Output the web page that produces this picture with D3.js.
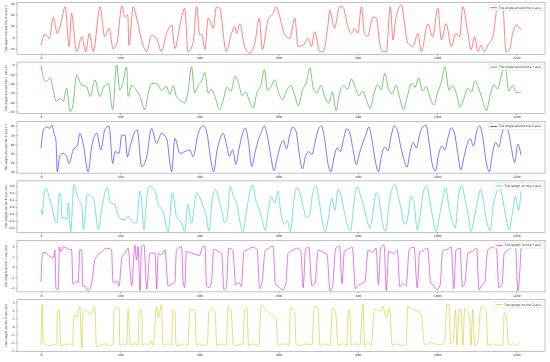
<!DOCTYPE html>
<html>
<head>
<meta charset="utf-8">
<script src="https://cdn.jsdelivr.net/npm/d3@7"></script>
<style>
  body { margin: 0; background: #fff; }
  svg { display: block; }
</style>
</head>
<body>
<div id="chart"></div>
<script>
// sample index / value pairs, one pair of arrays per sensor channel
const angleXIdx = [0,10,21,31,41,50,61,71,77,90,103,113,122,132,149,161,172,182,192,204,212,219,222,233,241,250,267,279,292,304,317,330,338,351,363,371,384,393,401,406,414,422,435,443,451,468,481,489,494,502,514,527,540,551,559,573,586,594,603,614,628,641,649,662,674,683,691,704,712,725,729,741,754,762,775,784,792,800,809,817,825,838,847,855,863,872,882,889,895,910,918,926,939,952,960,977,989,1002,1011,1023,1036,1048,1057,1065,1078,1086,1095,1103,1111,1120,1128,1141,1153,1166,1174,1183,1191,1200,1212];
const angleXVal = [-7,2.6,-1,17.7,3.5,12,27,-8,21,-12.7,0.5,-12.7,3.5,-12.7,27,0.5,8,-10,-5,27.7,18,19.7,-7,27,18,3.5,-12.7,2,-1,-12.7,3.5,11,-10,11,25.7,-12.7,-5,27,2,2.5,-11,17,8,27,25.7,-12.7,3.5,9.4,3.5,12,-8,-14,-5,17,-11,15,21,27,18,3.5,-1,17,-8,-7,-1,-8,5,-12.7,-12.7,12,24,8,27,27,9.4,3.5,8,3.5,27,3.5,1,18,17,-5,-12.7,-12.7,27,-2.4,15,28.6,12,-5,-8,3.5,-12.7,12,0.5,25.7,-2.4,12,-8,3.5,0.5,27,3.5,-11,0.5,-12.7,-7,-12.7,-7,0.5,27,27,-12.7,-11,3.5,11,6.5];

const angleYIdx = [0,6,14,23,31,38,48,56,65,73,80,90,103,115,124,136,149,157,170,181,191,199,206,216,220,229,237,250,262,271,279,292,304,317,325,334,342,355,363,371,380,388,397,405,414,422,430,440,451,460,470,480,490,499,508,517,527,536,545,555,564,572,580,590,600,610,620,631,641,650,660,670,679,688,697,707,716,726,736,745,754,764,774,784,793,803,812,822,831,840,850,859,868,877,887,896,906,915,925,935,944,954,963,973,982,992,1001,1011,1020,1030,1039,1049,1058,1068,1077,1087,1096,1106,1115,1125,1134,1144,1153,1163,1172,1181,1191,1200,1212];
const angleYVal = [0,-14,-18,-14,-27,-39,-36,-39,-25,-50,-45,-11,-22,-23,-34,-16,-34,-25,-20,-48,0,-27,-20,-2,-34,-22,-25,-34,-48,-30,-20,-20,-27,-23,-32,-22,-34,-39,-41,-29,-2,-30,-22,-18,-8,-30,-26,-35,-48,-38,-24,-28,-12,-20,-33,-29,-40,-46,-30,-22,-5,-27,-24,-16,-30,-37,-28,-22,-33,-44,-27,-19,-3,-26,-30,-22,-34,-41,-29,-49,-30,-22,-26,-15,-24,-33,-28,-38,-47,-32,-21,-27,-9,-25,-31,-22,-36,-48,-34,-20,-24,-14,-28,-23,-35,-43,-30,-18,-2,-27,-22,-31,-45,-36,-25,-29,-17,-26,-38,-49,-33,-21,-26,-10,-1,-28,-22,-30,-29];

const angleZIdx = [0,6,14,21,27,33,38,41,48,56,65,71,81,92,98,107,119,128,141,151,161,172,181,187,197,204,212,218,226,235,243,254,267,279,292,304,317,330,338,351,363,376,384,397,405,412,420,428,436,444,452,460,468,476,484,492,500,508,516,524,532,540,548,556,564,572,580,588,596,604,612,620,628,636,644,652,660,668,676,684,692,700,708,716,724,732,740,748,756,764,772,780,788,796,804,812,820,828,836,844,852,860,868,876,884,892,900,908,916,924,932,940,948,956,964,972,980,988,996,1004,1012,1020,1028,1036,1044,1052,1060,1068,1076,1084,1092,1100,1108,1116,1124,1132,1140,1148,1156,1164,1172,1180,1188,1196,1204,1212];
const angleZVal = [55.6,75.6,79,77.5,81,72,62.8,30,48,50,46.4,39,53.7,59,72,59,30,57.4,72,53.7,75.6,80,39,52,50,70,70,46.4,59,72,75.6,35.5,46.4,77.5,61,72,66.5,30,66.5,50,52,53.7,46.4,72,79,80,70,45,30,52,66,72,60,47,54,38,55,70,78,62,36,50,64,73,80,68,48,31,44,58,64,55,70,79,74,50,33,47,52,49,62,76,80,66,40,30,46,56,52,66,77,72,54,38,50,61,70,79,64,42,30,48,57,53,69,80,75,58,44,35,52,62,56,71,79,81,62,38,31,49,58,54,68,78,72,51,32,46,60,66,58,74,80,66,41,30,50,62,57,72,79,74,55,40,60,48];

const lengthXIdx = [0,3,8,12,23,31,38,41,46,50,53,61,65,69,75,83,94,103,107,117,132,145,153,167,176,187,191,204,212,220,229,241,250,254,260,267,275,288,296,308,321,332,342,355,363,371,380,393,400,408,416,424,432,440,448,456,464,470,478,486,494,502,510,518,526,534,542,550,558,566,574,582,590,598,606,614,622,630,638,646,654,662,670,678,686,694,702,710,718,726,734,742,750,758,766,774,782,790,798,806,814,822,830,838,846,854,862,870,878,886,894,902,910,918,926,934,942,950,958,966,974,982,990,998,1006,1014,1022,1030,1038,1046,1054,1062,1070,1078,1086,1094,1102,1110,1118,1126,1134,1142,1150,1158,1166,1174,1182,1190,1198,1206,1212];
const lengthXVal = [-0.08,-0.22,0.4,0.54,0.16,-0.17,-0.46,-0.41,0.4,0.3,-0.31,-0.31,-0.36,0.11,-0.7,0.64,0.21,0.02,-0.65,0.35,0.26,-0.65,-0.08,0.54,0.11,0.07,-0.12,-0.36,-0.36,-0.27,-0.41,-0.46,0.45,0.21,-0.65,0.26,0.59,0.45,0.07,-0.12,-0.7,0.4,-0.27,-0.46,-0.7,0.07,-0.46,0.4,0.3,0.05,-0.2,-0.68,0.2,0.5,0.25,-0.1,-0.45,-0.3,0.58,0.3,0.1,-0.4,-0.7,-0.2,0.35,0.62,0.2,-0.05,-0.35,-0.66,-0.1,0.3,0.1,0.45,-0.2,-0.5,-0.4,-0.7,0.15,0.55,0.38,0,-0.3,-0.25,0.4,0.6,0.2,-0.4,-0.7,-0.3,0.25,-0.1,0.5,0.3,-0.15,-0.55,-0.68,0.1,0.58,0.35,0.05,-0.3,-0.6,-0.2,0.4,0.2,-0.45,-0.7,0,0.5,0.64,0.3,-0.1,-0.5,-0.3,0.3,0.1,-0.65,-0.2,0.45,0.6,0.15,-0.35,-0.7,-0.25,0.2,0.55,0,-0.4,-0.6,0.3,0.62,0.25,-0.2,-0.7,-0.3,0.15,0.5,0.1,-0.45,-0.68,0.05,0.4,0.58,0.2,-0.3,-0.65,-0.2,0.3,-0.1,0.45];

const lengthYIdx = [0,4,10,23,31,35,38,44,46,50,56,65,73,77,81,90,94,98,103,105,111,119,128,136,140,149,166,178,182,191,197,204,212,220,229,237,241,245,250,254,260,267,275,288,292,296,304,313,321,330,338,342,355,359,363,367,380,393,400,408,414,418,424,430,436,446,456,462,468,474,484,492,500,506,512,524,536,546,552,558,566,576,586,592,600,610,618,624,636,648,656,662,668,676,684,692,700,712,722,730,736,744,754,760,766,776,786,794,800,810,818,826,838,846,852,858,866,872,878,890,900,906,914,922,930,942,950,956,966,976,984,992,1000,1008,1014,1026,1036,1042,1048,1058,1064,1070,1078,1090,1100,1106,1112,1120,1128,1140,1150,1156,1164,1170,1180,1190,1198,1204,1212];
const lengthYVal = [-1.45,1.32,1.38,1.0,0.85,1.63,-2.14,-2.14,1.94,1.47,1.94,1.79,1.63,1.7,-1.67,-1.36,-1.51,1.63,1.63,-1.83,-1.83,-2.3,-1.51,0.69,1.0,1.32,1.79,1.63,-1.51,-1.36,-1.83,0.85,1.32,1.79,-1.83,2.1,0.69,1.94,-2.3,1.94,2.1,-2.14,1.32,1.32,-2.14,1.32,1.16,1.63,-1.83,-1.67,-1.51,1.63,1.94,-1.51,-1.98,1.47,1.32,1.16,1.1,1.9,2.0,-1.8,-2.0,-1.6,1.7,1.5,1.3,-2.2,-1.9,1.8,1.6,-1.7,-1.5,-1.9,1.4,1.7,1.9,1.6,-2.1,-1.5,1.5,1.8,2.0,-1.6,-1.9,-2.2,-1.7,1.3,1.6,1.8,1.5,-2.0,1.7,1.9,-1.8,-1.5,1.6,1.4,1.2,-2.3,-1.9,1.8,2.0,-1.6,1.5,1.7,1.9,-2.1,-1.8,-1.6,-1.4,1.6,1.4,1.8,-1.7,1.9,2.1,-2.3,1.5,1.3,1.6,-1.9,-1.6,-1.8,1.7,1.9,-2.0,1.4,1.6,1.8,-1.5,-1.8,-2.2,-1.7,1.5,1.7,1.9,-2.1,1.6,1.8,-1.9,-1.6,1.3,1.5,1.8,-2.2,-1.8,-1.5,1.6,1.9,1.7,-2.0,-1.7,1.4,1.6,1.9,2.0,-2.3,1.8];

const lengthZIdx = [0,3,6,10,18,31,40,41,44,46,50,61,73,80,83,90,98,103,105,114,125,136,140,149,161,174,182,185,191,197,199,208,216,220,226,237,245,248,254,256,262,271,277,283,292,296,304,308,321,330,332,338,341,351,363,371,376,388,393,400,410,420,424,432,440,444,456,468,472,480,486,498,510,514,520,524,536,550,556,566,576,588,594,598,612,626,630,640,644,656,670,684,690,700,704,716,730,736,744,750,762,772,776,779,784,796,805,813,817,825,834,842,859,863,872,880,887,897,910,922,926,939,952,960,968,973,981,994,1006,1019,1025,1031,1034,1040,1047,1050,1057,1061,1065,1070,1082,1086,1090,1095,1099,1103,1111,1124,1128,1141,1158,1166,1170,1174,1181,1191,1200,1208];
const lengthZVal = [-2.25,2.7,-1.93,-2.13,-2.33,-2.25,-2.13,1.69,2.08,1.69,-2.33,-2.25,-2.13,-2.33,1.48,1.08,2.48,-2.65,1.28,2.08,1.48,2.48,-2.53,-2.33,-2.13,-2.33,-2.13,2.08,2.29,2.29,-2.33,-2.13,-2.25,2.08,-2.33,-2.13,-2.33,1.88,2.08,-2.33,-2.13,-2.33,-1.73,-2.33,2.48,1.08,2.69,-2.33,-2.13,-2.33,2.08,1.88,-2.33,-2.33,-2.13,-2.33,2.08,2.08,-2.33,-2.13,-2.33,-2.13,1.88,2.29,1.48,-2.33,-2.13,-2.33,2.48,1.88,-2.33,-2.25,-2.13,2.08,2.29,-2.33,-2.13,-2.33,2.69,2.08,1.69,1.28,0.9,-2.33,-2.13,-2.33,2.29,1.88,-2.13,-2.33,-2.13,-2.25,2.48,2.08,-2.33,-2.13,-2.33,2.29,1.69,-2.33,-2.13,-2.33,1.88,2.08,-2.33,-2.13,-2.33,2.69,-2.33,-1.93,-2.33,2.08,1.88,2.48,1.08,2.29,-2.33,-2.13,-2.33,-2.13,2.48,2.08,1.88,1.48,-2.13,-2.33,-1.93,-2.13,-2.25,-1.93,2.69,2.69,-2.13,-1.93,2.08,-2.33,2.08,2.08,-2.33,2.29,1.08,-2.33,2.08,-2.33,-2.33,-1.93,2.48,2.08,-2.33,-2.13,-2.33,-2.25,1.69,1.48,-2.33,-2.13,-2.33,-1.93];

const xTicks = [0, 200, 400, 600, 800, 1000, 1200];
const legendNames = ["The Angle around the X axis", "The Angle around the Y axis", "The Angle around the Z axis",
                     "The length on the X axis", "The length on the Y axis", "The length on the Z axis"];
const yLabels = ["The angle around the X axis (°)", "The angle around the Y axis (°)", "The angle around the Z axis (°)",
                 "The length on the X axis (m)", "The length on the Y axis (m)", "The length on the Z axis (m)"];
const yTicksAngleX = [-10, 0, 10, 20, 30];
const yTicksAngleY = [-50, -40, -30, -20, -10, 0];
const yTicksAngleZ = [30, 40, 50, 60, 70, 80];
const yTicksLenX = [-0.6, -0.4, -0.2, 0, 0.2, 0.4, 0.6];
const yTicksLenY = [-2, -1, 0, 1, 2];
const yTicksLenZ = [-3, -2, -1, 0, 1, 2, 3];

const width = 550, height = 362;
const left = 17, right = 545, top0 = 2.7, pitch = 59.4, panelH = 51.6;
const nSamples = 1212;

const panels = [
  { idx: angleXIdx, val: angleXVal, color: "#ff2020", dom: [-15, 30.6],    ticks: yTicksAngleX, fmt: d3.format("d") },
  { idx: angleYIdx, val: angleYVal, color: "#10a010", dom: [-52.4, 3.1],   ticks: yTicksAngleY, fmt: d3.format("d") },
  { idx: angleZIdx, val: angleZVal, color: "#1010ff", dom: [28.5, 84.9],   ticks: yTicksAngleZ, fmt: d3.format("d") },
  { idx: lengthXIdx, val: lengthXVal, color: "#10c8c8", dom: [-0.73, 0.74], ticks: yTicksLenX, fmt: d3.format(".1f") },
  { idx: lengthYIdx, val: lengthYVal, color: "#cc10cc", dom: [-2.4, 2.55],  ticks: yTicksLenY, fmt: d3.format("d") },
  { idx: lengthZIdx, val: lengthZVal, color: "#c8c810", dom: [-3.05, 3.3],  ticks: yTicksLenZ, fmt: d3.format("d") }
];

const svg = d3.select("#chart")
  .append("svg")
    .attr("width", width)
    .attr("height", height)
    .style("font-family", "DejaVu Sans, sans-serif");

const x = d3.scaleLinear()
  .domain([-0.05 * nSamples, 1.05 * nSamples])
  .range([left, right]);

panels.forEach(function(p, i) {
  const top = top0 + i * pitch;
  const bottom = top + panelH;

  const y = d3.scaleLinear().domain(p.dom).range([bottom, top]);

  const g = svg.append("g");

  // x axis
  const xAxis = g.append("g")
    .attr("transform", "translate(0," + bottom + ")")
    .call(d3.axisBottom(x).tickValues(xTicks).tickFormat(d3.format("d")).tickSize(1.5).tickPadding(1));
  xAxis.select(".domain").remove();
  xAxis.selectAll("line").attr("stroke", "#444").attr("stroke-width", 0.4);
  xAxis.selectAll("text").attr("font-size", 3).attr("fill", "#222").attr("font-family", "DejaVu Sans, sans-serif");

  // y axis
  const yAxis = g.append("g")
    .attr("transform", "translate(" + left + ",0)")
    .call(d3.axisLeft(y).tickValues(p.ticks).tickFormat(p.fmt).tickSize(1.5).tickPadding(1));
  yAxis.select(".domain").remove();
  yAxis.selectAll("line").attr("stroke", "#444").attr("stroke-width", 0.4);
  yAxis.selectAll("text").attr("font-size", 3).attr("fill", "#222").attr("font-family", "DejaVu Sans, sans-serif");

  g.append("text")
    .attr("transform", "translate(7," + (top + panelH / 2) + ") rotate(-90)")
    .attr("text-anchor", "middle")
    .attr("font-size", 3)
    .attr("fill", "#222")
    .text(yLabels[i]);

  // the line
  const pts = d3.zip(p.idx, p.val);
  const line = d3.line()
    .x(d => x(d[0]))
    .y(d => y(d[1]))
    .curve(d3.curveMonotoneX);

  g.append("path")
    .datum(pts)
    .attr("fill", "none")
    .attr("stroke", p.color)
    .attr("stroke-width", 0.7)
    .attr("stroke-opacity", 0.8)
    .attr("d", line);

  // frame
  g.append("rect")
    .attr("x", left)
    .attr("y", top)
    .attr("width", right - left)
    .attr("height", panelH)
    .attr("fill", "none")
    .attr("stroke", "#888")
    .attr("stroke-width", 0.5);

  // legend, upper right
  const lg = g.append("g");
  const label = lg.append("text")
    .attr("y", top + 5.8)
    .attr("font-size", 3)
    .attr("fill", "#222")
    .text(legendNames[i]);
  const tw = label.node().getComputedTextLength();
  const boxRight = right - 2;
  const boxLeft = boxRight - tw - 12;
  label.attr("x", boxLeft + 10);
  lg.insert("rect", "text")
    .attr("x", boxLeft)
    .attr("y", top + 2)
    .attr("width", boxRight - boxLeft)
    .attr("height", 6)
    .attr("fill", "#fff")
    .attr("stroke", "#ccc")
    .attr("stroke-width", 0.4)
    .attr("rx", 0.6);
  lg.append("line")
    .attr("x1", boxLeft + 1.5)
    .attr("x2", boxLeft + 8.5)
    .attr("y1", top + 5)
    .attr("y2", top + 5)
    .attr("stroke", p.color)
    .attr("stroke-width", 0.7);
});
</script>
</body>
</html>
